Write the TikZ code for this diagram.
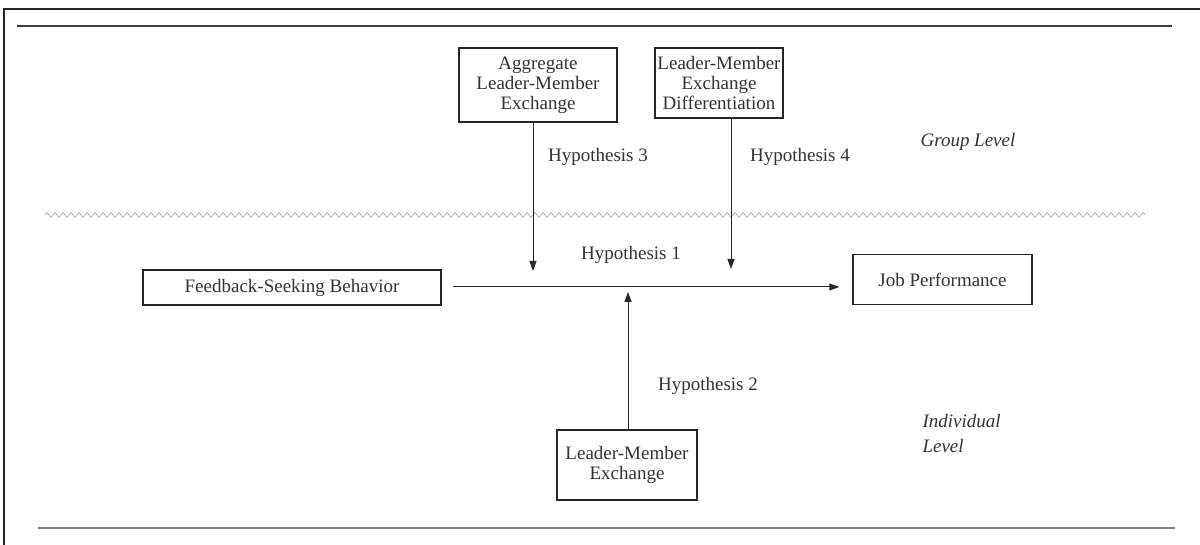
\documentclass[tikz,border=0pt]{standalone}
\usepackage{fontspec}
\setmainfont{Liberation Serif}
\usetikzlibrary{arrows.meta,decorations.pathmorphing}
\begin{document}
\begin{tikzpicture}[x=1pt,y=-1pt,
  txt/.style={text=black!80, font=\fontsize{19}{20}\selectfont},
  box/.style={txt, draw=black!85, line width=1.4pt, align=center, inner sep=0pt},
  arr/.style={line width=1pt, black!85, -{Triangle[length=10pt,width=7pt]}},
  rule/.style={line width=2pt}
]
\useasboundingbox (0,0) rectangle (1200,545);
\fill[white] (0,0) rectangle (1200,545);

% outer frame (top and left edges)
\draw[line width=1.5pt, black!85] (3,9) -- (1200,9);
\draw[line width=1.5pt, black!85] (4,9) -- (4,545);

% top and bottom rules
\draw[rule, black!75] (17,26) -- (1172,26);
\draw[rule, line width=2.5pt, black!50] (38,528) -- (1175,528);

% level separator
\draw[black!30, line width=0.8pt, decorate,
      decoration={zigzag, amplitude=2.5pt, segment length=8pt}] (45,215) -- (1145,215);

% boxes
\node[box, minimum width=158pt, minimum height=74pt] (agg) at (538,85)
  {Aggregate\\Leader-Member\\Exchange};
\node[box, minimum width=128pt, minimum height=70pt] (diff) at (719,83)
  {Leader-Member\\Exchange\\Differentiation};
\node[box, minimum width=298pt, minimum height=35pt] (fsb) at (292,287.5)
  {Feedback-Seeking Behavior};
\node[box, minimum width=179pt, minimum height=50pt] (job) at (942.5,279.5)
  {Job Performance};
\node[box, minimum width=140pt, minimum height=70pt] (lmx) at (627,465)
  {Leader-Member\\Exchange};

% arrow end points on the main path
\coordinate (h3end) at (533,271);
\coordinate (h4end) at (731,269);
\coordinate (h2end) at (628,292);

% connectors
\draw[arr] ([xshift=11pt]fsb.east |- 0,287) -- ([xshift=-13pt]job.west |- 0,287);
\draw[arr] (agg.south -| h3end) -- (h3end);
\draw[arr] (diff.south -| h4end) -- (h4end);
\draw[arr] (lmx.north -| h2end) -- (h2end);

% labels
\node[txt] (l3) at (598,157) {Hypothesis 3};
\node[txt] (l4) at (800,157) {Hypothesis 4};
\node[txt] (l1) at (631,255) {Hypothesis 1};
\node[txt] (l2) at (708,386) {Hypothesis 2};
\node[txt, font=\fontsize{19}{20}\selectfont\itshape] (grp) at (968,142) {Group Level};
\node[txt, font=\fontsize{19}{25}\selectfont\itshape, align=left, anchor=west] (ind) at (919,434) {Individual\\Level};
\end{tikzpicture}
\end{document}
